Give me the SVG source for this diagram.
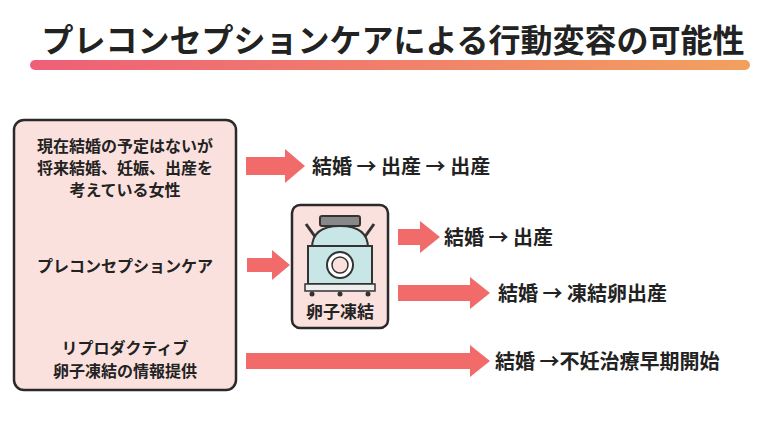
<svg xmlns="http://www.w3.org/2000/svg" width="780" height="439" viewBox="0 0 780 439">
<defs>
<linearGradient id="g" x1="0" x2="1"><stop offset="0" stop-color="#ee5f78"/><stop offset="1" stop-color="#f3a05e"/></linearGradient>
<style>
text{font-family:"Noto Sans CJK JP",sans-serif;font-weight:bold;fill:#222}
.box{fill:#fbe1dd;stroke:#2a2a2a;stroke-width:2.5}
.arr{fill:#f26b6b}
.l{font-size:16px;text-anchor:middle}
.r{font-size:20px}
</style>
</defs>
<rect width="780" height="439" fill="#fff"/>
<text x="393" y="52" font-size="32" text-anchor="middle">プレコンセプションケアによる行動変容の可能性</text>
<rect x="30" y="60" width="720" height="10" rx="5" fill="url(#g)"/>
<g id="source">
<rect class="box" x="14" y="120" width="222" height="270" rx="10"/>
<text class="l" x="125" y="152">現在結婚の予定はないが</text>
<text class="l" x="125" y="174">将来結婚、妊娠、出産を</text>
<text class="l" x="125" y="196">考えている女性</text>
<text class="l" x="125" y="272">プレコンセプションケア</text>
<text class="l" x="125" y="354">リプロダクティブ</text>
<text class="l" x="125" y="377">卵子凍結の情報提供</text>
</g>
<g id="freeze">
<rect class="box" x="292" y="205" width="96" height="123" rx="8"/>
<rect x="320" y="216" width="40" height="10" rx="2" fill="#888" stroke="#333" stroke-width="2"/>
<line x1="316" y1="238" x2="306" y2="224" stroke="#333" stroke-width="3"/>
<line x1="364" y1="238" x2="374" y2="224" stroke="#333" stroke-width="3"/>
<path d="M312 248 Q312 226 340 226 Q368 226 368 248 Z" fill="#c8e6e6" stroke="#333" stroke-width="2"/>
<rect x="308" y="246" width="64" height="38" fill="#c8e6e6" stroke="#333" stroke-width="2"/>
<circle cx="340" cy="265" r="13" fill="#fff" stroke="#333" stroke-width="2"/>
<circle cx="340" cy="265" r="8" fill="#fbe1dd" stroke="#333" stroke-width="1.5"/>
<rect x="305" y="284" width="70" height="7" fill="#eee" stroke="#333" stroke-width="1.5"/>
<circle cx="312" cy="294" r="2.5" fill="#333"/><circle cx="340" cy="294" r="2.5" fill="#333"/><circle cx="368" cy="294" r="2.5" fill="#333"/>
<text x="340" y="318" font-size="17" text-anchor="middle">卵子凍結</text>
</g>
<g id="connectors">
<path class="arr" d="M246 157 H285 V149 L305 166 L285 183 V175 H246 Z"/>
<path class="arr" d="M247 258 H272 V250 L290 265 L272 280 V272 H247 Z"/>
<path class="arr" d="M398 229 H420 V221 L440 237 L420 253 V245 H398 Z"/>
<path class="arr" d="M398 285 H470 V277 L490 293 L470 309 V301 H398 Z"/>
<path class="arr" d="M246 353 H470 V345 L490 361 L470 377 V369 H246 Z"/>
</g>
<g id="outcomes">
<text class="r" x="312" y="174">結婚 → 出産 → 出産</text>
<text class="r" x="444" y="245">結婚 → 出産</text>
<text class="r" x="498" y="301">結婚 → 凍結卵出産</text>
<text class="r" x="495" y="369">結婚 →不妊治療早期開始</text>
</g>
</svg>
